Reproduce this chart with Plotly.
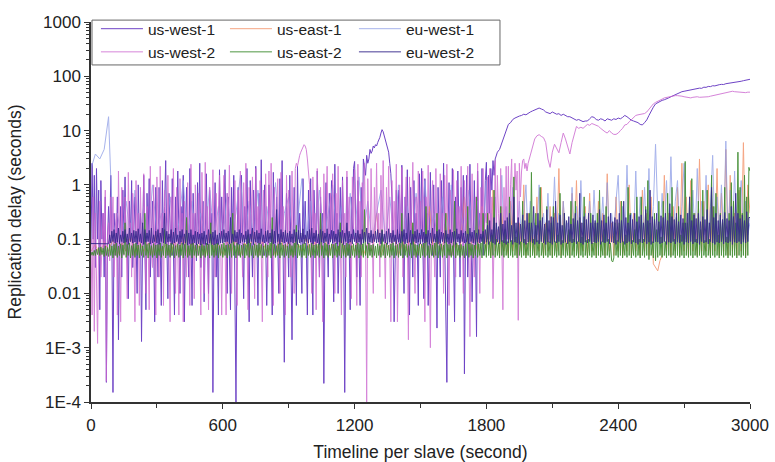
import numpy as np
import plotly.graph_objects as go

# ---------------- data ----------------
# delays; "_ms" arrays are in milliseconds, "_s" arrays in seconds
series_names = ["us-west-1", "us-east-1", "eu-west-1", "us-west-2", "us-east-2", "eu-west-2"]
x_ticks = [0, 600, 1200, 1800, 2400, 3000]
y_tickvals = [1e-4, 1e-3, 1e-2, 1e-1, 1, 10, 100, 1000]
y_ticktext = ["1E-4", "1E-3", "0.01", "0.1", "1", "10", "100", "1000"]

# us-west-1: 5 s samples 0..1850 s (ms), then 10 s samples 1860..3000 s (s)
us_west_1_ms = [
    80, 2500, 100, 1500, 30, 2000, 100, 800, 5, 1200, 100, 300, 20, 600, 0.23, 100, 400, 80, 1500, 100,
    0.15, 300, 100, 50, 600, 1.4, 100, 400, 20, 800, 100, 1400, 60, 100, 8, 500, 100, 1200, 30, 100,
    600, 100, 10, 1000, 100, 300, 1.3, 100, 1500, 80, 5, 700, 100, 1300, 20, 100, 500, 100, 3, 900,
    100, 20, 900, 100, 6, 1200, 100, 400, 2800, 100, 8, 700, 100, 50, 1300, 100, 4, 600, 100, 1800,
    100, 10, 400, 100, 1500, 3, 100, 900, 100, 20, 2000, 100, 6, 700, 100, 300, 40, 1100, 100, 2500,
    30, 100, 500, 7, 100, 1600, 100, 10, 800, 100, 300, 0.15, 100, 1100, 20, 100, 4, 1900, 100, 600,
    100, 300, 1900, 100, 10, 600, 100, 5, 900, 100, 1500, 20, 0.1, 100, 900, 50, 100, 1500, 100, 8,
    400, 100, 2000, 100, 3, 1200, 100, 20, 800, 100, 2200, 100, 6, 700, 100, 2900, 100, 50, 1000, 100,
    6, 100, 1000, 300, 100, 4, 1700, 100, 50, 600, 100, 10, 1300, 100, 2800, 100, 0.54, 100, 700, 100,
    20, 1500, 100, 1.4, 100, 900, 100, 6, 2200, 100, 300, 100, 10, 1300, 100, 500, 100, 4, 800, 100,
    1300, 100, 4, 800, 100, 50, 1800, 100, 20, 600, 100, 300, 0.22, 100, 1100, 100, 20, 700, 100, 1200,
    100, 7, 2400, 100, 300, 10, 100, 900, 100, 1400, 100, 0.15, 100, 1400, 50, 100, 5, 600, 100, 2000,
    2700, 100, 20, 1200, 100, 6, 900, 100, 3000, 2000, 1500, 3500, 2500, 3000, 4500, 3800, 4200, 5200, 4800, 5500,
    5200, 6000, 6500, 7500, 9000, 10400, 9500, 8000, 7000, 6000, 4500, 4000, 2500, 1600, 600, 100, 3, 100, 800, 100,
    800, 100, 50, 2300, 100, 10, 600, 100, 1900, 100, 4, 900, 100, 20, 1200, 100, 300, 100, 6, 1600,
    100, 2000, 100, 8, 1300, 100, 300, 6, 100, 1700, 100, 50, 1000, 100, 100, 2.3, 900, 100, 20, 1200,
    100, 2500, 100, 10, 0.23, 100, 1100, 50, 100, 2000, 100, 3, 600, 100, 1800, 100, 20, 900, 100, 1500,
    0.33, 100, 1500, 20, 100, 2400, 100, 7, 100, 1200, 100, 1.6, 1800, 100, 300, 100, 2000, 50, 100, 1200,
    2600, 100, 1500, 300, 2000, 800, 2800, 1500, 3000, 3500, 4000,
]
us_west_1_s = [
    4.5, 6, 8, 10, 13, 14, 16, 17, 18, 18.5,
    19, 20, 19.5, 21, 22, 23, 24, 25, 26, 25,
    24, 22, 21, 20.5, 22, 21, 20, 20.5, 19, 20,
    19, 18, 18, 17, 16, 15.5, 16, 15, 14.6, 15,
    15, 16.5, 18, 17.5, 16, 15.5, 16.5, 16, 15, 16.5,
    16, 15.5, 16.5, 16, 17, 16.5, 17.5, 19, 18, 16.5,
    15.5, 15, 14.6, 14, 13, 12.7, 14, 15.7, 19, 23,
    27, 31, 33, 35, 36, 37, 38, 40, 42, 44,
    46, 48, 51, 52, 53, 54, 56, 57, 57.5, 58,
    59, 60.5, 60, 63, 62.5, 65, 64.5, 67, 66.5, 69,
    70, 71, 70.5, 73, 74, 73.5, 76, 77, 76.5, 79,
    81, 83, 84, 86, 88,
]

# us-west-2: 5 s samples 0..1995 s (ms), then 10 s samples 2000..3000 s (s)
us_west_2_ms = [
    100, 4, 600, 2, 300, 10, 1.2, 100, 500, 20, 100, 300, 50, 800, 0.24, 100, 200, 40, 600, 100,
    600, 20, 100, 300, 4, 1800, 100, 3, 900, 100, 50, 600, 100, 8, 1700, 100, 200, 20, 700, 100,
    3, 1200, 100, 300, 6, 900, 100, 50, 1600, 100, 10, 400, 100, 5, 2200, 100, 30, 1000, 100, 4,
    1400, 100, 20, 2200, 100, 300, 6, 800, 100, 50, 1500, 100, 3, 600, 100, 2000, 100, 10, 900, 100,
    4, 1300, 100, 300, 3, 500, 100, 20, 1100, 100, 6, 2400, 100, 300, 8, 1000, 100, 50, 700, 100,
    4, 1700, 100, 10, 2600, 100, 400, 5, 900, 100, 80, 1900, 100, 20, 700, 100, 300, 1500, 100, 4,
    200, 1500, 100, 4, 700, 100, 2300, 100, 10, 300, 100, 1200, 100, 6, 800, 100, 1800, 100, 20, 1100,
    100, 2500, 100, 5, 900, 100, 300, 1400, 100, 8, 2000, 100, 400, 50, 1200, 100, 3, 800, 100, 1600,
    100, 20, 1800, 100, 2500, 100, 6, 900, 100, 300, 1300, 100, 10, 1700, 100, 400, 100, 4, 1500, 100,
    800, 100, 20, 1800, 100, 10, 2000, 2500, 2200, 3000, 3500, 4000, 4500, 5000, 5500, 5200, 4500, 3000, 1500, 1000,
    100, 10, 1400, 100, 300, 5, 2000, 100, 20, 900, 100, 3, 1600, 100, 300, 2200, 100, 50, 700, 100,
    1600, 100, 10, 700, 100, 2200, 50, 100, 4, 1200, 100, 300, 20, 1800, 100, 600, 100, 8, 1400, 100,
    1900, 100, 6, 2400, 100, 500, 20, 1100, 100, 2500, 100, 0.1, 1300, 100, 50, 2000, 100, 10, 900, 100,
    2500, 100, 300, 20, 1500, 100, 2800, 100, 8, 900, 100, 2200, 100, 3, 1200, 100, 500, 100, 2400, 3,
    100, 1000, 100, 2100, 20, 100, 300, 1400, 100, 1.4, 1400, 100, 300, 2600, 100, 10, 600, 100, 1800, 100,
    500, 100, 1800, 100, 3, 600, 100, 2300, 100, 1.0, 200, 1200, 100, 20, 2000, 100, 300, 100, 1600, 100,
    300, 10, 1500, 100, 2400, 100, 6, 800, 100, 50, 1900, 100, 20, 1200, 100, 400, 100, 2200, 100, 10,
    1200, 100, 300, 2200, 100, 1.6, 100, 1600, 100, 20, 600, 100, 2500, 100, 10, 900, 100, 2000, 100, 300,
    200, 1400, 100, 2000, 100, 600, 8, 100, 2800, 100, 1500, 300, 100, 2000, 100, 5, 900, 100, 2200, 100,
    2200, 100, 1000, 3000, 100, 300, 2500, 800, 1800, 3.2, 2500, 600, 1800, 2800, 3000, 2000, 2500, 1800, 2500, 3000,
]
us_west_2_s = [
    3.4, 5.5, 7, 8, 8.4, 7.8, 7.4, 6, 3, 2.1,
    4, 5.6, 4.5, 3.9, 6, 9, 7, 5, 3.7, 6,
    9, 11.9, 11, 11.5, 11, 12, 13, 12.5, 13.5, 13,
    12.5, 12, 11, 10, 9.5, 9, 10, 9, 8.5, 8.5,
    9, 10, 11, 12.7, 13, 14.5, 16, 18, 19, 19.5,
    20, 20, 20.6, 22, 25, 28, 31, 33, 35, 37,
    38, 40, 41, 42, 43, 43.5, 44, 44, 44, 43,
    42, 41, 41, 40, 41, 41.5, 42, 41, 41, 42,
    41, 42, 43, 44, 45, 46, 47, 48, 49, 50,
    51, 52, 53, 52, 51.5, 52, 51, 51.5, 50, 51,
    51,
]

# eu-west-2: 5 s samples 0..3000 s (ms)
eu_west_2_ms = [
    83, 83, 83, 83, 82, 83, 83, 84, 83, 83, 83, 82, 83, 83, 83, 83, 82, 120, 85, 140,
    90, 150, 85, 130, 88, 160, 82, 120, 90, 140, 85, 150, 88, 125, 80, 160, 90, 130, 85, 145,
    88, 140, 82, 155, 90, 125, 85, 200, 80, 150, 88, 130, 90, 145, 82, 160, 85, 120, 90, 140,
    85, 150, 80, 130, 90, 160, 85, 300, 82, 140, 88, 125, 90, 150, 80, 135, 85, 160, 90, 120,
    82, 140, 88, 150, 80, 125, 85, 145, 78, 130, 82, 150, 80, 120, 85, 140, 78, 135, 82, 125,
    78, 130, 82, 140, 80, 120, 78, 150, 85, 125, 80, 135, 78, 145, 82, 120, 80, 130, 85, 140,
    85, 150, 88, 130, 90, 140, 82, 250, 85, 125, 90, 145, 88, 135, 80, 150, 85, 130, 90, 120,
    88, 140, 82, 150, 85, 125, 90, 160, 80, 135, 88, 145, 85, 130, 82, 155, 90, 120, 85, 140,
    90, 145, 85, 130, 88, 150, 82, 140, 85, 350, 90, 125, 80, 150, 88, 135, 85, 145, 90, 130,
    82, 140, 88, 125, 85, 150, 90, 135, 80, 145, 85, 130, 88, 155, 82, 120, 90, 140, 85, 150,
    88, 160, 82, 130, 90, 145, 85, 125, 80, 150, 88, 140, 85, 130, 90, 155, 82, 125, 88, 145,
    85, 140, 90, 125, 82, 150, 88, 135, 85, 145, 80, 130, 90, 200, 85, 140, 88, 125, 82, 150,
    90, 130, 85, 145, 88, 125, 80, 150, 85, 135, 90, 160, 82, 130, 88, 145, 85, 125, 90, 140,
    85, 150, 88, 130, 82, 145, 90, 125, 85, 140, 80, 155, 88, 130, 85, 145, 90, 120, 82, 150,
    88, 125, 85, 140, 90, 150, 82, 130, 85, 300, 88, 145, 80, 125, 90, 140, 85, 150, 88, 130,
    82, 150, 90, 135, 85, 125, 88, 145, 80, 130, 85, 160, 90, 125, 88, 140, 82, 150, 85, 135,
    90, 130, 85, 145, 88, 125, 82, 150, 85, 135, 90, 140, 80, 155, 88, 125, 85, 145, 90, 130,
    85, 140, 88, 125, 82, 160, 90, 135, 85, 145, 80, 130, 88, 150, 85, 125, 90, 140, 82, 150,
    88, 180, 80, 220, 90, 150, 85, 250, 80, 200, 88, 170, 82, 300, 90, 190, 85, 220, 80, 250,
    85, 300, 90, 180, 80, 600, 88, 200, 85, 250, 80, 190, 90, 280, 85, 220, 80, 300, 88, 200,
    90, 200, 85, 400, 80, 180, 88, 300, 82, 220, 90, 250, 85, 190, 80, 350, 88, 220, 85, 260,
    80, 250, 88, 500, 85, 200, 90, 280, 80, 180, 85, 300, 88, 220, 82, 260, 90, 190, 85, 240,
    88, 300, 82, 220, 90, 700, 85, 200, 80, 260, 88, 230, 85, 300, 90, 200, 82, 280, 88, 220,
    85, 200, 90, 350, 80, 220, 88, 280, 85, 200, 90, 260, 82, 300, 88, 210, 85, 250, 80, 230,
    90, 300, 85, 220, 88, 500, 80, 250, 85, 200, 90, 280, 82, 230, 88, 300, 85, 210, 80, 260,
    88, 280, 85, 200, 90, 350, 82, 220, 88, 800, 80, 260, 85, 230, 90, 300, 88, 210, 82, 270,
    85, 250, 90, 300, 80, 220, 88, 450, 85, 260, 90, 230, 82, 300, 88, 210, 85, 280, 90, 240,
    80, 200, 88, 300, 85, 600, 90, 220, 82, 280, 88, 240, 85, 300, 80, 210, 90, 260, 85, 230,
    88, 350, 82, 200, 90, 900, 85, 250, 80, 300, 88, 220, 85, 280, 90, 230, 82, 310, 88, 240,
    85, 220, 90, 400, 80, 260, 88, 700, 85, 300, 90, 240, 82, 280, 88, 220, 85, 320, 90, 250,
    250,
]

# us-east-2: 5 s samples 0..3000 s (ms)
us_east_2_ms = [
    50, 58, 50, 62, 50, 65, 52, 70, 50, 72, 52, 68, 48, 75, 50, 70, 48, 80, 50, 75,
    45, 80, 50, 85, 46, 75, 50, 82, 45, 78, 52, 200, 46, 80, 50, 85, 45, 76, 50, 82,
    46, 85, 50, 78, 45, 82, 50, 75, 46, 300, 50, 80, 45, 85, 50, 76, 46, 82, 50, 78,
    45, 80, 50, 85, 46, 75, 50, 150, 45, 82, 50, 78, 46, 85, 50, 80, 45, 76, 50, 82,
    46, 78, 50, 85, 45, 80, 50, 250, 46, 76, 50, 82, 45, 85, 50, 78, 46, 80, 50, 75,
    45, 82, 50, 76, 46, 85, 50, 80, 45, 200, 50, 78, 46, 82, 50, 85, 45, 76, 50, 80,
    46, 85, 50, 78, 45, 80, 50, 82, 46, 300, 50, 76, 45, 85, 50, 80, 46, 78, 50, 82,
    45, 80, 50, 120, 46, 85, 50, 76, 45, 82, 50, 78, 46, 85, 50, 80, 45, 75, 50, 82,
    46, 78, 50, 85, 45, 250, 50, 80, 46, 76, 50, 82, 45, 85, 50, 78, 46, 80, 50, 75,
    45, 82, 50, 76, 46, 85, 50, 180, 45, 80, 50, 78, 46, 82, 50, 85, 45, 76, 50, 80,
    46, 85, 50, 78, 45, 80, 50, 82, 46, 300, 50, 76, 45, 85, 50, 80, 46, 78, 50, 82,
    45, 80, 50, 85, 46, 75, 50, 200, 45, 82, 50, 78, 46, 85, 50, 80, 45, 76, 50, 82,
    46, 78, 50, 85, 45, 80, 50, 82, 46, 350, 50, 76, 45, 85, 50, 78, 46, 80, 50, 75,
    45, 82, 50, 76, 46, 150, 50, 80, 45, 85, 50, 78, 46, 82, 50, 85, 45, 76, 50, 80,
    46, 85, 50, 300, 45, 80, 50, 82, 46, 76, 50, 85, 45, 200, 50, 80, 46, 78, 50, 82,
    45, 80, 50, 85, 46, 400, 50, 76, 45, 82, 50, 78, 46, 85, 50, 300, 45, 76, 50, 82,
    46, 78, 50, 300, 45, 80, 50, 82, 46, 76, 50, 500, 45, 85, 50, 78, 46, 80, 50, 75,
    45, 82, 50, 400, 46, 85, 50, 80, 45, 78, 50, 600, 46, 82, 50, 85, 45, 300, 50, 80,
    46, 300, 50, 90, 45, 120, 50, 800, 46, 100, 50, 85, 45, 400, 50, 95, 46, 150, 50, 90,
    45, 600, 50, 95, 46, 1400, 50, 110, 45, 200, 50, 90, 46, 500, 50, 100, 45, 85, 50, 300,
    46, 1700, 50, 100, 45, 300, 50, 95, 46, 900, 50, 85, 45, 150, 50, 400, 46, 90, 50, 200,
    45, 400, 50, 90, 46, 120, 50, 700, 45, 95, 50, 300, 46, 85, 50, 150, 45, 500, 50, 100,
    46, 500, 50, 90, 45, 250, 50, 110, 46, 600, 50, 95, 45, 100, 50, 300, 46, 85, 50, 200,
    45, 300, 50, 800, 46, 90, 50, 150, 45, 400, 50, 100, 46, 85, 40, 38, 45, 200, 50, 95,
    46, 200, 50, 500, 45, 90, 50, 120, 46, 900, 50, 300, 45, 95, 50, 150, 46, 600, 50, 100,
    45, 600, 50, 100, 46, 400, 50, 1200, 42, 200, 50, 90, 45, 300, 40, 150, 46, 500, 50, 110,
    46, 500, 50, 90, 45, 700, 50, 300, 46, 900, 50, 100, 45, 250, 50, 400, 46, 120, 50, 200,
    45, 2700, 50, 200, 46, 600, 50, 1300, 45, 300, 50, 100, 46, 500, 50, 150, 45, 800, 50, 95,
    46, 800, 50, 100, 45, 1500, 50, 400, 46, 700, 50, 120, 45, 300, 50, 200, 46, 900, 50, 110,
    45, 300, 50, 1100, 46, 500, 50, 200, 45, 4000, 50, 900, 46, 300, 50, 1500, 45, 600, 50, 2100,
    1800,
]

# us-east-1: 20 s samples 0..1780 s, then 10 s samples 1800..3000 s (s)
us_east_1_a_s = [
    0.06, 0.08, 0.05, 0.09, 0.06, 0.1, 0.05, 0.085, 0.06, 0.12,
    0.05, 0.09, 0.06, 0.085, 0.05, 0.15, 0.06, 0.08, 0.05, 0.09,
    0.06, 0.11, 0.05, 0.085, 0.06, 0.09, 0.05, 0.13, 0.06, 0.08,
    0.05, 0.09, 0.06, 0.1, 0.05, 0.085, 0.06, 0.14, 0.05, 0.09,
    0.06, 0.08, 0.05, 0.12, 0.06, 0.09, 0.05, 0.085, 0.06, 0.11,
    0.05, 0.09, 0.06, 0.15, 0.05, 0.08, 0.06, 0.1, 0.05, 0.09,
    0.06, 0.12, 0.05, 0.085, 0.06, 0.3, 0.05, 0.09, 0.06, 0.11,
    0.05, 0.09, 0.06, 0.2, 0.05, 0.085, 0.06, 0.4, 0.05, 0.1,
    0.06, 0.3, 0.05, 0.09, 0.06, 0.6, 0.05, 0.12, 0.06, 0.4,
]
us_east_1_b_s = [
    0.06, 0.3, 0.05, 0.8, 0.06, 0.15, 0.05, 0.4, 0.06, 0.09,
    0.05, 0.5, 0.06, 0.12, 0.05, 0.2, 0.06, 1.0, 0.05, 0.3,
    0.06, 0.15, 0.05, 0.6, 0.06, 0.9, 0.05, 0.2, 0.06, 0.4,
    0.05, 0.3, 0.06, 2.0, 0.05, 0.5, 0.06, 0.12, 0.05, 0.7,
    0.06, 1.2, 0.05, 0.2, 0.06, 0.4, 0.05, 0.7, 0.06, 0.15,
    0.05, 0.5, 0.06, 0.3, 0.05, 1.6, 0.06, 0.2, 0.05, 0.6,
    0.06, 0.5, 0.05, 0.15, 0.06, 1.0, 0.05, 0.3, 0.06, 0.12,
    0.05, 0.8, 0.06, 0.3, 0.05, 0.6, 0.035, 0.03, 0.026, 0.04,
    0.05, 1.5, 0.06, 0.3, 0.05, 0.4, 0.06, 0.9, 0.05, 2.5,
    0.06, 0.6, 0.05, 1.2, 0.06, 0.3, 0.05, 3.0, 0.06, 0.5,
    0.06, 1.0, 0.05, 0.4, 0.06, 2.0, 0.05, 0.7, 0.06, 4.5,
    0.05, 1.5, 0.06, 0.3, 0.05, 0.8, 0.06, 6.0, 0.05, 1.0,
    0.3,
]

# eu-west-1: 20 s samples 0..1780 s, then 10 s samples 1800..3000 s (s)
eu_west_1_a_s = [
    2.0, 3.7, 3.0, 4.5, 18, 0.1, 0.3, 0.09, 0.5, 0.1,
    0.8, 0.1, 0.4, 0.09, 1.0, 0.12, 0.3, 0.1, 0.6, 0.09,
    0.2, 1.2, 0.1, 0.5, 0.09, 0.3, 0.11, 0.9, 0.1, 0.4,
    0.09, 0.7, 0.12, 0.3, 1.5, 0.1, 0.5, 0.09, 0.8, 0.1,
    0.4, 0.1, 1.1, 0.09, 0.3, 0.6, 0.1, 0.2, 1.3, 0.1,
    0.5, 0.09, 0.8, 0.1, 0.3, 1.0, 0.1, 0.4, 0.09, 0.7,
    0.1, 1.4, 0.12, 0.5, 0.09, 0.3, 0.8, 0.1, 0.6, 0.09,
    1.0, 0.1, 0.4, 0.09, 0.7, 0.12, 1.2, 0.1, 0.3, 0.09,
    0.6, 0.1, 1.0, 0.09, 0.4, 0.12, 0.8, 0.1, 0.5, 0.09,
]
eu_west_1_b_s = [
    1.2, 0.1, 0.3, 0.09, 0.6, 0.12, 0.09, 1.5, 0.1, 0.4,
    0.09, 0.2, 0.9, 0.1, 0.12, 0.5, 0.09, 0.3, 1.0, 0.1,
    0.5, 0.09, 0.2, 0.12, 1.0, 0.1, 0.3, 0.09, 0.7, 0.1,
    0.12, 1.4, 0.09, 0.3, 0.1, 0.5, 0.12, 0.2, 0.09, 0.9,
    0.1, 0.4, 0.09, 1.2, 0.12, 0.3, 0.1, 0.5, 0.09, 0.8,
    0.1, 0.2, 0.12, 0.6, 0.09, 1.1, 0.1, 0.3, 0.12, 0.5,
    1.5, 0.1, 0.4, 0.09, 2.3, 0.12, 0.3, 0.1, 1.8, 0.09,
    0.6, 0.1, 0.9, 0.12, 2.0, 0.09, 0.4, 5.6, 0.3, 0.1,
    0.7, 0.12, 1.2, 0.09, 3.3, 0.1, 0.5, 1.2, 0.09, 0.4,
    2.5, 0.1, 0.3, 0.12, 0.8, 0.09, 2.0, 0.1, 0.5, 0.12,
    1.5, 0.09, 0.4, 3.5, 0.1, 0.6, 0.12, 1.0, 0.09, 6.4,
    0.1, 0.8, 0.12, 1.8, 0.09, 0.3, 1.2, 0.1, 0.5, 0.12,
    0.2,
]


def seg(vals, t0, t1, scale=1.0):
    t = np.linspace(t0, t1, len(vals))
    return t, np.asarray(vals, dtype=float) * scale


def join(a, b):
    return np.concatenate([a[0], b[0]]), np.concatenate([a[1], b[1]])


def series(name):
    if name == "us-west-1":
        return join(seg(us_west_1_ms, 0, 1850, 1e-3), seg(us_west_1_s, 1860, 3000))
    if name == "us-west-2":
        return join(seg(us_west_2_ms, 0, 1995, 1e-3), seg(us_west_2_s, 2000, 3000))
    if name == "eu-west-2":
        return seg(eu_west_2_ms, 0, 3000, 1e-3)
    if name == "us-east-2":
        return seg(us_east_2_ms, 0, 3000, 1e-3)
    if name == "us-east-1":
        return join(seg(us_east_1_a_s, 0, 1780), seg(us_east_1_b_s, 1800, 3000))
    return join(seg(eu_west_1_a_s, 0, 1780), seg(eu_west_1_b_s, 1800, 3000))


colors = {
    "us-west-1": "#5f30c0",
    "us-east-1": "#f2875a",
    "eu-west-1": "#8a9ae6",
    "us-west-2": "#cc66d0",
    "us-east-2": "#3b8a2c",
    "eu-west-2": "#36288c",
}
opac = {
    "us-west-1": 0.9, "us-east-1": 0.75, "eu-west-1": 0.75,
    "us-west-2": 0.8, "us-east-2": 0.9, "eu-west-2": 0.92,
}
groups = {
    "us-west-1": "a", "us-west-2": "a",
    "us-east-1": "b", "us-east-2": "b",
    "eu-west-1": "c", "eu-west-2": "c",
}

FONT = "Liberation Sans, Arial, Helvetica, sans-serif"

fig = go.Figure()
for name in series_names:
    t, y = series(name)
    fig.add_trace(go.Scatter(
        x=t, y=y, mode="lines", name=name,
        legendgroup=groups[name],
        line=dict(color=colors[name], width=1),
        opacity=opac[name],
    ))

# legend frame (decoration) drawn in paper coordinates
fig.add_shape(type="rect", xref="paper", yref="paper",
              x0=0.0015, x1=0.6206, y0=0.887, y1=1.005,
              line=dict(color="#666", width=1), fillcolor="rgba(0,0,0,0)", layer="above")

fig.update_layout(
    width=775, height=462,
    margin=dict(l=91, r=25, t=13, b=60),
    paper_bgcolor="white", plot_bgcolor="white",
    font=dict(family=FONT, size=17, color="#222"),
    showlegend=True,
    legend=dict(
        orientation="h", traceorder="grouped",
        x=0.0075, y=1.026, xanchor="left", yanchor="top",
        bgcolor="rgba(0,0,0,0)", borderwidth=0,
        font=dict(family=FONT, size=15.5, color="#222"),
        entrywidth=72, entrywidthmode="pixels",
        itemwidth=42,
    ),
    xaxis=dict(
        range=[0, 3000], tickvals=x_ticks, ticks="outside", ticklen=5,
        tickwidth=1.2, tickcolor="#333", automargin=False,
        tickfont=dict(size=17), ticklabelstandoff=2,
        minor=dict(dtick=300, ticks="outside", ticklen=4, tickcolor="#333", showgrid=False),
        showline=True, linecolor="#333", linewidth=1.5,
        showgrid=False, zeroline=False,
        title=dict(text="Timeline per slave (second)", standoff=13, font=dict(size=17.5)),
    ),
    yaxis=dict(
        type="log", range=[-4, 3], automargin=False,
        tickmode="array", tickvals=y_tickvals, ticktext=y_ticktext,
        tickfont=dict(size=17),
        ticks="outside", ticklen=5, tickwidth=1.2, tickcolor="#333",
        minor=dict(dtick="D1", ticks="outside", ticklen=3, tickcolor="#333", showgrid=False),
        showline=True, linecolor="#333", linewidth=1.5,
        showgrid=False, zeroline=False,
        title=dict(text="Replication delay (seconds)", standoff=17, font=dict(size=17.5)),
    ),
)

fig.write_html(
    "out.html",
    config={"displayModeBar": False},
    post_script="document.body.style.margin='0';document.body.style.padding='0';",
)
